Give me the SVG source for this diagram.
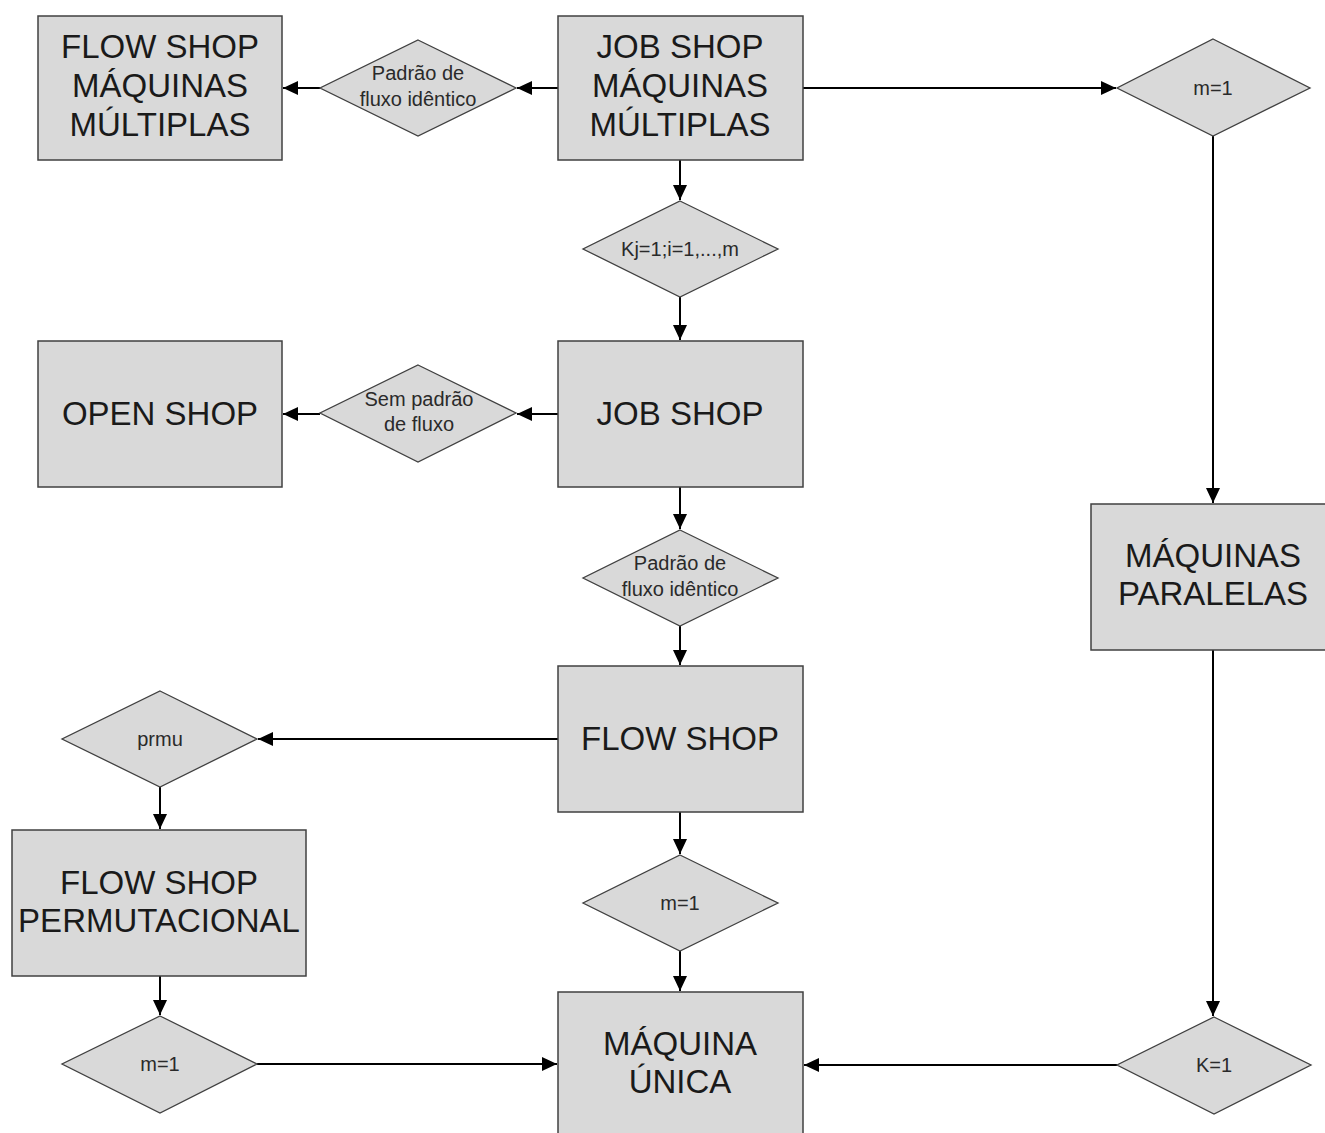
<svg xmlns="http://www.w3.org/2000/svg" width="1325" height="1133" viewBox="0 0 1325 1133">
<style>
.box{fill:#d9d9d9;stroke:#404040;stroke-width:1.5}
.dia{fill:#d9d9d9;stroke:#404040;stroke-width:1.3}
.bt{font-family:"Liberation Sans",Arial,sans-serif;font-size:33px;fill:#1a1a1a;text-anchor:middle}
.dt{font-family:"Liberation Sans",Arial,sans-serif;font-size:20px;fill:#2a2a2a;text-anchor:middle}
.c{stroke:#000;stroke-width:2;fill:none;marker-end:url(#ah)}
</style>
<defs>
<marker id="ah" markerWidth="15" markerHeight="14" refX="15" refY="7" orient="auto" markerUnits="userSpaceOnUse">
<path d="M0,0 L15,7 L0,14 Z" fill="#000"/>
</marker>
</defs>
<rect width="1325" height="1133" fill="#fff"/>
<g id="connectors">
<line class="c" x1="558" y1="88" x2="517" y2="88"/>
<line class="c" x1="320" y1="88" x2="283" y2="88"/>
<line class="c" x1="803" y1="88" x2="1116" y2="88"/>
<line class="c" x1="1213" y1="136" x2="1213" y2="503"/>
<line class="c" x1="1213" y1="650" x2="1213" y2="1016"/>
<line class="c" x1="1117" y1="1065" x2="804" y2="1065"/>
<line class="c" x1="680" y1="160" x2="680" y2="200"/>
<line class="c" x1="680" y1="297" x2="680" y2="340"/>
<line class="c" x1="558" y1="414" x2="517" y2="414"/>
<line class="c" x1="320" y1="414" x2="283" y2="414"/>
<line class="c" x1="680" y1="487" x2="680" y2="529"/>
<line class="c" x1="680" y1="626" x2="680" y2="665"/>
<line class="c" x1="558" y1="739" x2="258" y2="739"/>
<line class="c" x1="160" y1="787" x2="160" y2="829"/>
<line class="c" x1="160" y1="976" x2="160" y2="1015"/>
<line class="c" x1="680" y1="812" x2="680" y2="854"/>
<line class="c" x1="680" y1="951" x2="680" y2="991"/>
<line class="c" x1="257" y1="1064" x2="557" y2="1064"/>
</g>
<g id="fs_multiplas">
<rect class="box" x="38" y="16" width="244" height="144"/>
<text class="bt" x="160" y="58">FLOW SHOP</text>
<text class="bt" x="160" y="97">MÁQUINAS</text>
<text class="bt" x="160" y="136">MÚLTIPLAS</text>
</g>
<g id="d_padrao1">
<polygon class="dia" points="418,40 516,88 418,136 320,88"/>
<text class="dt" x="418" y="80">Padrão de</text>
<text class="dt" x="418" y="106">fluxo idêntico</text>
</g>
<g id="js_multiplas">
<rect class="box" x="558" y="16" width="245" height="144"/>
<text class="bt" x="680" y="58">JOB SHOP</text>
<text class="bt" x="680" y="97">MÁQUINAS</text>
<text class="bt" x="680" y="136">MÚLTIPLAS</text>
</g>
<g id="d_m1_top">
<polygon class="dia" points="1213,39 1310,88 1213,136 1117,88"/>
<text class="dt" x="1213" y="95">m=1</text>
</g>
<g id="d_kj">
<polygon class="dia" points="680,201 778,249 680,297 583,249"/>
<text class="dt" x="680" y="256">Kj=1;i=1,...,m</text>
</g>
<g id="open_shop">
<rect class="box" x="38" y="341" width="244" height="146"/>
<text class="bt" x="160" y="425">OPEN SHOP</text>
</g>
<g id="d_sem">
<polygon class="dia" points="418,365 516,413 418,462 320,413"/>
<text class="dt" x="419" y="406">Sem padrão</text>
<text class="dt" x="419" y="431">de fluxo</text>
</g>
<g id="job_shop">
<rect class="box" x="558" y="341" width="245" height="146"/>
<text class="bt" x="680" y="425">JOB SHOP</text>
</g>
<g id="d_padrao2">
<polygon class="dia" points="680,530 778,578 680,626 583,578"/>
<text class="dt" x="680" y="570">Padrão de</text>
<text class="dt" x="680" y="596">fluxo idêntico</text>
</g>
<g id="maq_paralelas">
<rect class="box" x="1091" y="504" width="244" height="146"/>
<text class="bt" x="1213" y="567">MÁQUINAS</text>
<text class="bt" x="1213" y="605">PARALELAS</text>
</g>
<g id="flow_shop">
<rect class="box" x="558" y="666" width="245" height="146"/>
<text class="bt" x="680" y="750">FLOW SHOP</text>
</g>
<g id="d_prmu">
<polygon class="dia" points="160,691 257,739 160,787 62,739"/>
<text class="dt" x="160" y="746">prmu</text>
</g>
<g id="fs_perm">
<rect class="box" x="12" y="830" width="294" height="146"/>
<text class="bt" x="159" y="894">FLOW SHOP</text>
<text class="bt" x="159" y="932">PERMUTACIONAL</text>
</g>
<g id="d_m1_mid">
<polygon class="dia" points="680,855 778,903 680,951 583,903"/>
<text class="dt" x="680" y="910">m=1</text>
</g>
<g id="d_m1_bl">
<polygon class="dia" points="160,1016 257,1064 160,1113 62,1064"/>
<text class="dt" x="160" y="1071">m=1</text>
</g>
<g id="d_k1">
<polygon class="dia" points="1214,1017 1311,1065 1214,1114 1117,1065"/>
<text class="dt" x="1214" y="1072">K=1</text>
</g>
<g id="maq_unica">
<rect class="box" x="558" y="992" width="245" height="150"/>
<text class="bt" x="680" y="1055">MÁQUINA</text>
<text class="bt" x="680" y="1093">ÚNICA</text>
</g>
</svg>
